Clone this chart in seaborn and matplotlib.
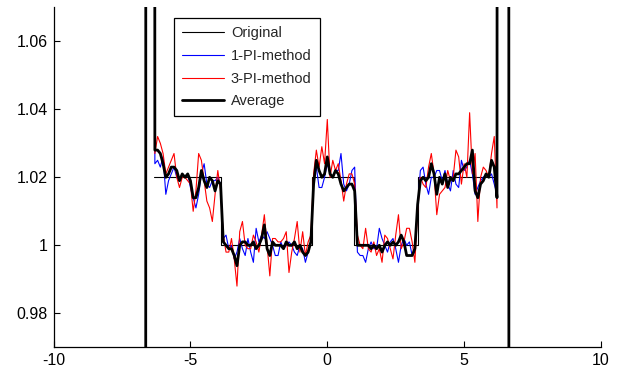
import numpy as np
import pandas as pd
import seaborn as sns
import matplotlib.pyplot as plt
from matplotlib.lines import Line2D
from matplotlib.ticker import FormatStrFormatter

# sample grid of the reconstructed curves (-6.3 ... 6.2, step 0.1)
x_grid = np.round(np.linspace(-6.3, 6.2, 126), 2)

pi1 = [
    1.024, 1.025, 1.023, 1.026, 1.015, 1.019, 1.021, 1.023, 1.020, 1.019,
    1.021, 1.020, 1.021, 1.017, 1.014, 1.011, 1.015, 1.021, 1.024, 1.018,
    1.017, 1.019, 1.019, 1.020, 1.018, 1.002, 1.003, 0.999, 1.000, 0.996,
    0.998, 1.002, 0.999, 0.997, 1.002, 0.998, 0.995, 1.005, 1.001, 1.003,
    1.002, 1.004, 1.002, 1.000, 0.997, 0.997, 1.001, 0.999, 1.000, 1.001,
    1.000, 0.998, 0.997, 1.000, 0.999, 0.995, 0.998, 1.001, 1.019, 1.023,
    1.017, 1.017, 1.020, 1.024, 1.021, 1.020, 1.022, 1.022, 1.027, 1.018,
    1.016, 1.018, 1.022, 1.023, 0.998, 0.997, 0.997, 0.995, 0.999, 1.001,
    0.999, 0.999, 1.005, 1.002, 1.000, 0.998, 1.001, 1.002, 0.999, 0.995,
    1.000, 1.002, 1.000, 1.001, 0.997, 0.998, 1.011, 1.022, 1.023, 1.018,
    1.015, 1.020, 1.020, 1.022, 1.022, 1.019, 1.022, 1.018, 1.016, 1.022,
    1.018, 1.017, 1.025, 1.022, 1.023, 1.025, 1.021, 1.015, 1.017, 1.019,
    1.020, 1.021, 1.020, 1.021, 1.018, 1.015,
]

pi3 = [
    1.027, 1.032, 1.030, 1.027, 1.021, 1.023, 1.025, 1.027, 1.020, 1.017,
    1.020, 1.020, 1.019, 1.018, 1.010, 1.016, 1.027, 1.025, 1.019, 1.013,
    1.011, 1.007, 1.015, 1.022, 1.016, 1.003, 0.998, 0.998, 1.002, 0.996,
    0.988, 1.004, 1.007, 1.000, 0.999, 0.999, 1.003, 1.001, 0.998, 1.003,
    1.009, 1.000, 0.991, 1.002, 1.002, 1.001, 1.001, 1.002, 1.004, 0.992,
    0.998, 1.002, 1.007, 0.998, 1.004, 0.997, 1.001, 1.003, 1.021, 1.028,
    1.023, 1.029, 1.024, 1.037, 1.020, 1.025, 1.022, 1.024, 1.019, 1.013,
    1.018, 1.021, 1.021, 1.018, 1.003, 1.000, 0.999, 1.005, 0.999, 0.998,
    1.001, 0.997, 0.999, 0.995, 1.003, 1.002, 0.999, 0.996, 1.003, 1.009,
    0.999, 1.001, 1.005, 1.005, 1.001, 0.995, 1.010, 1.020, 1.018, 1.017,
    1.023, 1.027, 1.021, 1.009, 1.015, 1.016, 1.017, 1.022, 1.019, 1.020,
    1.028, 1.026, 1.018, 1.024, 1.020, 1.039, 1.021, 1.027, 1.007, 1.020,
    1.023, 1.022, 1.020, 1.027, 1.032, 1.011,
]

average = [
    1.028, 1.028, 1.027, 1.024, 1.020, 1.021, 1.023, 1.023, 1.022, 1.019,
    1.021, 1.020, 1.021, 1.019, 1.014, 1.014, 1.017, 1.022, 1.019, 1.017,
    1.020, 1.019, 1.016, 1.019, 1.018, 1.001, 1.000, 0.999, 0.999, 0.997,
    0.994, 1.000, 1.001, 1.001, 1.000, 1.000, 1.001, 0.999, 1.000, 1.002,
    1.006, 0.999, 0.997, 1.001, 1.000, 1.000, 1.000, 0.999, 1.001, 1.000,
    1.000, 1.001, 0.999, 1.000, 0.998, 0.997, 0.998, 1.001, 1.018, 1.025,
    1.022, 1.020, 1.021, 1.026, 1.021, 1.020, 1.022, 1.021, 1.018, 1.016,
    1.017, 1.018, 1.018, 1.016, 1.000, 1.000, 1.000, 1.000, 1.000, 0.999,
    1.000, 0.999, 1.000, 0.998, 1.000, 1.001, 1.000, 1.001, 1.000, 1.001,
    1.003, 1.001, 0.997, 0.997, 0.997, 0.999, 1.012, 1.019, 1.020, 1.019,
    1.020, 1.024, 1.021, 1.015, 1.020, 1.018, 1.021, 1.017, 1.020, 1.019,
    1.021, 1.021, 1.022, 1.023, 1.024, 1.024, 1.028, 1.016, 1.014, 1.018,
    1.019, 1.021, 1.020, 1.025, 1.023, 1.014,
]

# the methods blow up near the ends (values far off the visible range)
tail_left_x = [-6.7, -6.6, -6.5, -6.4]
tail_left_y = [-3.0, 3.0, 3.0, 3.0]
tail_right_x = [6.3, 6.4, 6.5, 6.6, 6.7]
tail_right_y = [3.0, 3.0, 3.0, 3.0, -3.0]

# original step profile
orig_x = [-6.32, -3.88, -3.88, -0.55, -0.55, 0.975, 0.975, 3.33, 3.33, 6.18]
orig_y = [1.02, 1.02, 1.00, 1.00, 1.02, 1.02, 1.00, 1.00, 1.02, 1.02]

labels = ["Original", "1-PI-method", "3-PI-method", "Average"]
colors = ["black", "#0000ff", "#ff0000", "black"]
widths = [0.8, 0.8, 0.8, 2.0]


def with_tails(vals):
    xs = tail_left_x + list(x_grid) + tail_right_x
    ys = tail_left_y + list(vals) + tail_right_y
    return pd.DataFrame({"x": xs, "y": ys})


sns.set_style("ticks")
plt.rcParams["font.family"] = ["Liberation Sans", "DejaVu Sans"]
plt.rcParams["axes.unicode_minus"] = False
plt.rcParams["xtick.direction"] = "in"
plt.rcParams["ytick.direction"] = "in"

fig = plt.figure(figsize=(6.21, 3.76), dpi=100)
ax = fig.add_axes([0.0863, 0.0763, 0.8815, 0.9043])

frames = [pd.DataFrame({"x": orig_x, "y": orig_y}),
          with_tails(pi1), with_tails(pi3), with_tails(average)]
for df, c, w in zip(frames, colors, widths):
    sns.lineplot(data=df, x="x", y="y", sort=False, estimator=None,
                 color=c, linewidth=w, ax=ax)

ax.set_xlim(-10, 10)
ax.set_ylim(0.97, 1.07)
ax.set_xticks([-10, -5, 0, 5, 10])
ax.set_yticks([0.98, 1.0, 1.02, 1.04, 1.06])
ax.yaxis.set_major_formatter(FormatStrFormatter("%g"))
ax.set_xlabel("")
ax.set_ylabel("")
ax.tick_params(labelsize=11.5, length=4, width=0.8, colors="black", pad=4)
for side in ["top", "right"]:
    ax.spines[side].set_visible(False)
for side in ["left", "bottom"]:
    ax.spines[side].set_linewidth(0.9)
    ax.spines[side].set_color("black")

handles = [Line2D([], [], color=c, linewidth=w) for c, w in zip(colors, widths)]
leg = ax.legend(handles, labels, loc="upper left", bbox_to_anchor=(0.22, 0.968),
                borderaxespad=0, fontsize=10.5, frameon=True, fancybox=False,
                handlelength=2.9, handletextpad=0.45, labelspacing=0.6,
                borderpad=0.55)
leg.get_frame().set_edgecolor("black")
leg.get_frame().set_linewidth(0.9)
leg.get_frame().set_alpha(1)

fig.savefig("out.png", dpi=100)
